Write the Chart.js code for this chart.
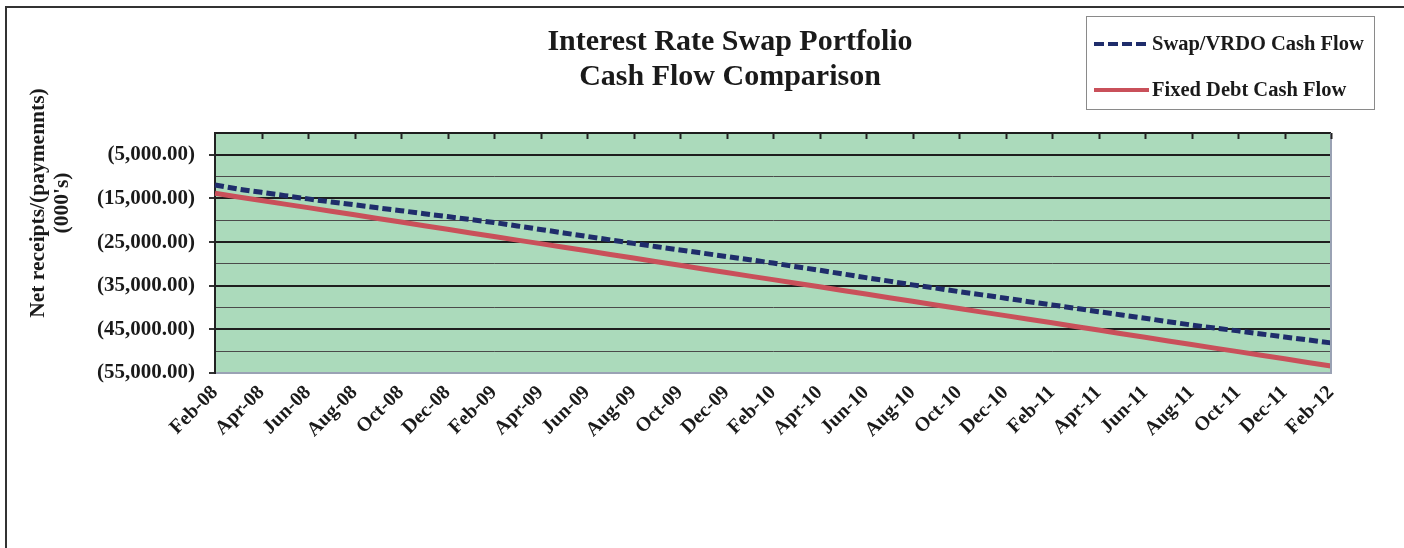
<!DOCTYPE html>
<html>
<head>
<meta charset="utf-8">
<script src="https://cdn.jsdelivr.net/npm/chart.js"></script>
<style>
  html, body { margin: 0; padding: 0; background: #fff; overflow: hidden; }
  body { width: 1404px; height: 548px; position: relative; font-family: "Liberation Serif", "Times New Roman", serif; color: #1a1a1a; }
  #frame { position: absolute; left: 5px; top: 6px; width: 1500px; height: 600px; border-left: 2px solid #333; border-top: 2px solid #333; }
  #chart { position: absolute; left: 0; top: 0; }
  #title { position: absolute; left: 430px; width: 600px; top: 22px; text-align: center; font-weight: bold; font-size: 30px; line-height: 35px; }
  #ytitle { position: absolute; left: -100px; top: 178px; width: 300px; height: 50px; text-align: center; font-weight: bold; font-size: 21.5px; line-height: 24px; transform: rotate(-90deg); }
  #legend { position: absolute; left: 1086px; top: 16px; width: 289px; height: 94px; border: 1px solid #8a8a8a; box-sizing: border-box; }
  .row { position: absolute; left: 7px; display: flex; align-items: center; font-weight: bold; font-size: 20.5px; white-space: nowrap; }
  .sample { width: 55px; height: 4px; margin-right: 3px; }
  .dash { background: repeating-linear-gradient(to right, #1f2d6b 0 10px, transparent 10px 14px); }
  .solid { background: #c9505a; }
</style>
</head>
<body>
<div id="frame"></div>
<canvas id="chart" width="1404" height="548"></canvas>
<div id="title">Interest Rate Swap Portfolio<br>Cash Flow Comparison</div>
<div id="ytitle">Net receipts/(paymennts)<br>(000's)</div>
<div id="legend">
  <div class="row" style="top:15px"><span class="sample dash"></span>Swap/VRDO Cash Flow</div>
  <div class="row" style="top:61px"><span class="sample solid"></span>Fixed Debt Cash Flow</div>
</div>
<script>
// monthly periods, Feb-08 .. Feb-12
const months = [
  'Feb-08','Mar-08','Apr-08','May-08','Jun-08','Jul-08','Aug-08','Sep-08','Oct-08','Nov-08','Dec-08','Jan-09',
  'Feb-09','Mar-09','Apr-09','May-09','Jun-09','Jul-09','Aug-09','Sep-09','Oct-09','Nov-09','Dec-09','Jan-10',
  'Feb-10','Mar-10','Apr-10','May-10','Jun-10','Jul-10','Aug-10','Sep-10','Oct-10','Nov-10','Dec-10','Jan-11',
  'Feb-11','Mar-11','Apr-11','May-11','Jun-11','Jul-11','Aug-11','Sep-11','Oct-11','Nov-11','Dec-11','Jan-12',
  'Feb-12'
];

// net receipts/(payments), 000's
const swapVrdo = [
  -11900, -12850, -13600, -14350, -15100, -15800, -16450, -17150, -17800, -18500, -19150, -19850,
  -20500, -21300, -22100, -22900, -23700, -24500, -25300, -26050, -26800, -27550, -28300, -29050,
  -29800, -30650, -31450, -32300, -33150, -33950, -34800, -35550, -36350, -37100, -37850, -38650,
  -39400, -40150, -40950, -41700, -42450, -43250, -44000, -44700, -45350, -46050, -46750, -47400,
  -48100
];
const fixedDebt = [
  -13800, -14650, -15450, -16300, -17100, -17950, -18750, -19600, -20400, -21250, -22050, -22900,
  -23700, -24550, -25350, -26200, -27000, -27850, -28650, -29500, -30300, -31150, -31950, -32800,
  -33600, -34450, -35250, -36100, -36900, -37750, -38550, -39400, -40200, -41050, -41850, -42700,
  -43500, -44350, -45150, -46000, -46800, -47650, -48450, -49300, -50100, -50950, -51750, -52600,
  -53400
];

const yMin = -55000;
const yMax = 0;
const yStep = 5000;

function isLabelled(v) {
  return v < 0 && Math.abs(v) % 10000 === 5000;
}
function fmt(v) {
  return '(' + Math.abs(v).toLocaleString('en-US', { minimumFractionDigits: 2, maximumFractionDigits: 2 }) + ')';
}

const plotDecor = {
  id: 'plotDecor',
  beforeDraw(chart) {
    const a = chart.chartArea;
    const c = chart.ctx;
    c.save();
    c.fillStyle = '#abdabb';
    c.fillRect(a.left, a.top, a.right - a.left, a.bottom - a.top);
    c.restore();
  },
  afterDraw(chart) {
    const a = chart.chartArea;
    const c = chart.ctx;
    const x = chart.scales.x;
    c.save();
    // right edge of plot
    c.strokeStyle = '#9aa2b4';
    c.lineWidth = 2;
    c.beginPath();
    c.moveTo(a.right, a.top);
    c.lineTo(a.right, a.bottom);
    c.stroke();
    // category tick marks hang from the zero line at the top
    c.strokeStyle = '#222';
    c.lineWidth = 2;
    for (let i = 2; i < months.length; i += 2) {
      const px = Math.round(x.getPixelForValue(i)) + 0.5;
      c.beginPath();
      c.moveTo(px, a.top);
      c.lineTo(px, a.top + 6);
      c.stroke();
    }
    c.restore();
  }
};

new Chart(document.getElementById('chart'), {
  type: 'line',
  data: {
    labels: months,
    datasets: [
      {
        label: 'Swap/VRDO Cash Flow',
        data: swapVrdo,
        borderColor: '#1f2d6b',
        borderWidth: 5,
        borderDash: [9, 4],
        pointRadius: 0,
        tension: 0
      },
      {
        label: 'Fixed Debt Cash Flow',
        data: fixedDebt,
        borderColor: '#c9505a',
        borderWidth: 5,
        pointRadius: 0,
        tension: 0
      }
    ]
  },
  options: {
    responsive: false,
    animation: false,
    devicePixelRatio: 1,
    layout: { padding: { top: 133, right: 73, left: 0, bottom: 0 } },
    plugins: {
      legend: { display: false },
      title: { display: false },
      tooltip: { enabled: false }
    },
    scales: {
      x: {
        grid: { display: false },
        border: { color: '#9aa2b4', width: 2 },
        ticks: {
          autoSkip: false,
          maxRotation: 45,
          minRotation: 45,
          padding: 0,
          color: '#1a1a1a',
          font: { family: '"Liberation Serif", serif', weight: 'bold', size: 20 },
          callback: function (v, i) { return i % 2 === 0 ? months[i] : ''; }
        },
        afterFit: function (s) { s.height = 548 - 373; }
      },
      y: {
        min: yMin,
        max: yMax,
        border: { color: '#222', width: 2 },
        grid: {
          color: ctx => {
            const v = ctx.tick.value;
            if (v === yMin) return '#9aa2b4';
            if (v === yMax || isLabelled(v)) return '#1e1e1e';
            return '#4a4a4a';
          },
          lineWidth: ctx => {
            const v = ctx.tick.value;
            if (v === yMax || isLabelled(v)) return 2;
            return 1;
          },
          tickColor: ctx => (isLabelled(ctx.tick.value) || ctx.tick.value === yMin) ? '#333' : 'rgba(0,0,0,0)',
          tickLength: 6
        },
        ticks: {
          stepSize: yStep,
          autoSkip: false,
          padding: 14,
          color: '#1a1a1a',
          font: { family: '"Liberation Serif", serif', weight: 'bold', size: 21 },
          callback: v => (isLabelled(v) || v === yMin) ? fmt(v) : ''
        },
        afterFit: function (s) { s.width = 215; }
      }
    }
  },
  plugins: [plotDecor]
});
</script>
</body>
</html>
